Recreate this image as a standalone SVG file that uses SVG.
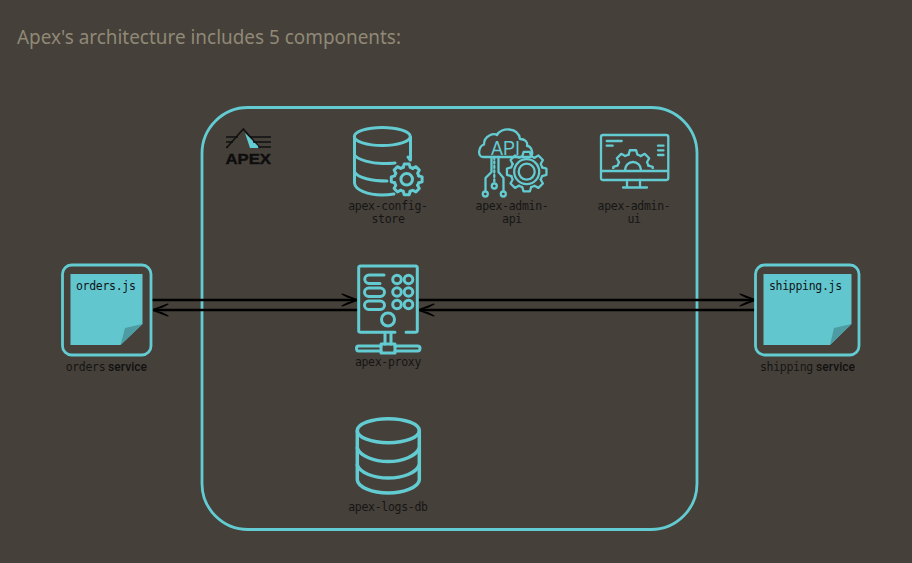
<svg xmlns="http://www.w3.org/2000/svg" width="912" height="563" viewBox="0 0 912 563">
<style>
.i{fill:none;stroke:#63cbd2;stroke-width:3;stroke-linecap:round;stroke-linejoin:round}
.t{stroke-width:2.300}
.g{vector-effect:non-scaling-stroke}
.m{font-family:"DejaVu Sans Mono","Liberation Mono",monospace;font-size:11.500px;letter-spacing:-.3px;fill:#151515;text-anchor:middle}
.f{fill:#101518;text-anchor:start}
.s{font-family:Roboto,"Liberation Sans",sans-serif;font-size:12px;font-weight:500;fill:#111}
.c{fill:none;stroke:#000;stroke-width:2.500}
.paper{fill:#62c6ce}.fold{fill:#4d9ca3}
</style>
<defs>
<path id="seg" class="g" d="M-4.410-15.380L-3.130-19.750H3.130L4.410-15.380A16 16 0 0 1 7.760-13.990"/>
<g id="gear"><use href="#seg"/><use href="#seg" transform="rotate(45)"/><use href="#seg" transform="rotate(90)"/><use href="#seg" transform="rotate(135)"/><use href="#seg" transform="rotate(180)"/><use href="#seg" transform="rotate(225)"/><use href="#seg" transform="rotate(270)"/><use href="#seg" transform="rotate(315)"/></g>
<clipPath id="mc"><rect x="600" y="140" width="70" height="29"/></clipPath>
<marker id="ah" markerUnits="userSpaceOnUse" markerWidth="18" markerHeight="14" refX="17" refY="7" orient="auto-start-reverse"><path d="M1 1C5 4 10 6 17 7C10 8 5 10 1 13L2.500 13.500L17 8V6L2.500 .5Z" fill="#000"/></marker>
</defs>
<rect width="912" height="563" fill="#454039"/>
<text x="17" y="44" font-family="'Noto Sans',Lato,sans-serif" font-size="20" fill="#908977" textLength="384" lengthAdjust="spacingAndGlyphs">Apex's architecture includes 5 components:</text>
<g id="apex-boundary"><rect x="202" y="107.500" width="495" height="422" rx="46" fill="none" stroke="#63cbd2" stroke-width="2.800"/></g>

<g id="connectors">
<line class="c" x1="151" y1="300" x2="357" y2="300" marker-end="url(#ah)"/>
<line class="c" x1="358" y1="310" x2="153" y2="310" marker-end="url(#ah)"/>
<line class="c" x1="418" y1="300" x2="755" y2="300" marker-end="url(#ah)"/>
<line class="c" x1="755" y1="310" x2="419" y2="310" marker-end="url(#ah)"/>
</g>

<g id="apex-logo">
<path d="M226.500 148L243.300 129L260 148" fill="none" stroke="#111" stroke-width="1.600"/>
<path d="M245 133L260 148H250Z" fill="#63cbd2"/>
<path d="M226 137H238M226 142H233M226 147H228M250 137H271M253 142H271M258 147H271" fill="none" stroke="#111" stroke-width="1.300"/>
<text x="225.500" y="163.500" font-family="'Liberation Sans',sans-serif" font-weight="700" font-size="15" fill="#0d0d0d" stroke="#0d0d0d" stroke-width=".4" textLength="45.500" lengthAdjust="spacingAndGlyphs">APEX</text>
</g>

<g id="apex-config-store">
<g class="i">
<ellipse cx="382.300" cy="136.500" rx="28" ry="9"/>
<path d="M354.500 137V183C355 190 368 195 382 195C387 195 391 194.500 394 194"/>
<path d="M410.500 137V160M408 157L410 160"/>
<path d="M354.500 155C358 160 372 163.500 382 163.500C387 163.500 391 163.500 395 163"/>
<path d="M354.500 172C358 178 372 181 387 181"/>
<use href="#gear" transform="translate(406.700 179.300) scale(.78)"/>
<circle cx="406.700" cy="179.300" r="5.800"/>
</g>
<text class="m" x="388" y="209.500">apex-config-</text>
<text class="m" x="388" y="222.500">store</text>
</g>

<g id="apex-admin-api">
<g class="i t">
<path d="M490 157H483C477 157 478.500 146 484 144.500C484 135 494 133 497 135C501 127 518 127 520 139C525 139 528 142 527 146C532 146 534 155 530 157H490"/>
<path d="M494.300 157V182" stroke-dasharray="2 2.500"/>
<circle cx="494.300" cy="186" r="2.500"/>
<path d="M485.500 191V178L491.500 172V157"/>
<circle cx="485.300" cy="194" r="2.500"/>
<path d="M503.500 191V178L498.500 172V157"/>
<circle cx="503.300" cy="194" r="2.500"/>
<use href="#gear" transform="translate(526.700 171.700)"/>
<circle cx="526.700" cy="171.700" r="12.500"/>
<circle cx="526.700" cy="171.700" r="8"/>
</g>
<text x="491" y="154.500" font-family="'Liberation Sans',sans-serif" font-size="20" fill="#63cbd2" textLength="29" lengthAdjust="spacingAndGlyphs">API</text>
<text class="m" x="512" y="209.500">apex-admin-</text>
<text class="m" x="512" y="222.500">api</text>
</g>

<g id="apex-admin-ui">
<g class="i t">
<path d="M601 171V137C601 135.500 602 135 603 135H666C667.500 135 668.300 136 668.300 137V178C668.300 179.500 667.500 180 666 180H603C602 180 601 179 601 178V171H668"/>
<path d="M606.700 141H621.700M606.700 145.700H612.700M658 145.700H663.500M658 150.300H663.500M658 155H663.500"/>
<g clip-path="url(#mc)"><use href="#gear" transform="translate(633 170)"/></g>
<path d="M625 170A8 8 0 0 1 641 170"/>
<path d="M627 180V187M640 180V187M623 187.500H647"/>
</g>
<text class="m" x="634" y="209.500">apex-admin-</text>
<text class="m" x="634" y="222.500">ui</text>
</g>

<g id="apex-proxy">
<g class="i">
<path d="M395 332.300H360.500Q358.700 332.300 358.700 330.500V268Q358.700 266 360.500 266H415.500Q417.300 266 417.300 268V330.500Q417.300 332.300 415.500 332.300H406"/>
<path d="M384 275H369A4 4 0 0 0 369 283.500H380"/>
<rect x="364.500" y="288" width="20" height="8.500" rx="4.200"/>
<rect x="364.500" y="301" width="20" height="8.500" rx="4.200"/>
<circle cx="397" cy="279.500" r="4.300"/><circle cx="408.500" cy="279.500" r="4.300"/>
<circle cx="397" cy="292" r="4.300"/><circle cx="408.500" cy="292" r="4.300"/>
<circle cx="397" cy="304.500" r="4.300"/><circle cx="408.500" cy="304.500" r="4.300"/>
<circle cx="388" cy="319.500" r="6.500"/>
<path d="M385 332.300V344M391 332.300V344"/>
<path d="M381 346H358.500Q356.500 346 356.500 348Q356.500 351 358.500 351H381M395 346H417.500Q420 346 420 348Q420 351 417.500 351H395"/>
<rect x="381" y="344" width="14" height="9"/>
</g>
<text class="m" x="388" y="366">apex-proxy</text>
</g>

<g id="apex-logs-db">
<g class="i" style="stroke-width:3.500">
<ellipse cx="388.300" cy="430.700" rx="31" ry="12"/>
<path d="M357.300 431V480C358 487 372 493 388.300 493C404 493 418.500 487 419.300 480V431"/>
<path d="M357.300 448C360 456 374 461.500 388.300 461.500C403 461.500 416 456 419.300 448"/>
<path d="M357.300 465C360 473 374 478 388.300 478C403 478 416 473 419.300 465"/>
</g>
<text class="m" x="388" y="510.500">apex-logs-db</text>
</g>

<g id="orders-service">
<rect x="62.500" y="265" width="88.500" height="90" rx="9" fill="none" stroke="#63cbd2" stroke-width="2.800"/>
<path class="paper" d="M70.500 274H142.500V324L120.500 345H70.500Z"/>
<path class="fold" d="M142.500 324L125 328L120.500 345Z"/>
<text class="m f" x="76" y="290">orders.js</text>
<text class="m" x="85.500" y="371">orders</text>
<text class="s" x="108" y="371" textLength="39">service</text>
</g>

<g id="shipping-service">
<rect x="755.500" y="265" width="103.500" height="90" rx="9" fill="none" stroke="#63cbd2" stroke-width="2.800"/>
<path class="paper" d="M763.500 274H851.500V324L830 345H763.500Z"/>
<path class="fold" d="M851.500 324L834 328L830 345Z"/>
<text class="m f" x="769" y="290">shipping.js</text>
<text class="m" x="786.500" y="371">shipping</text>
<text class="s" x="816" y="371" textLength="39">service</text>
</g>
</svg>
